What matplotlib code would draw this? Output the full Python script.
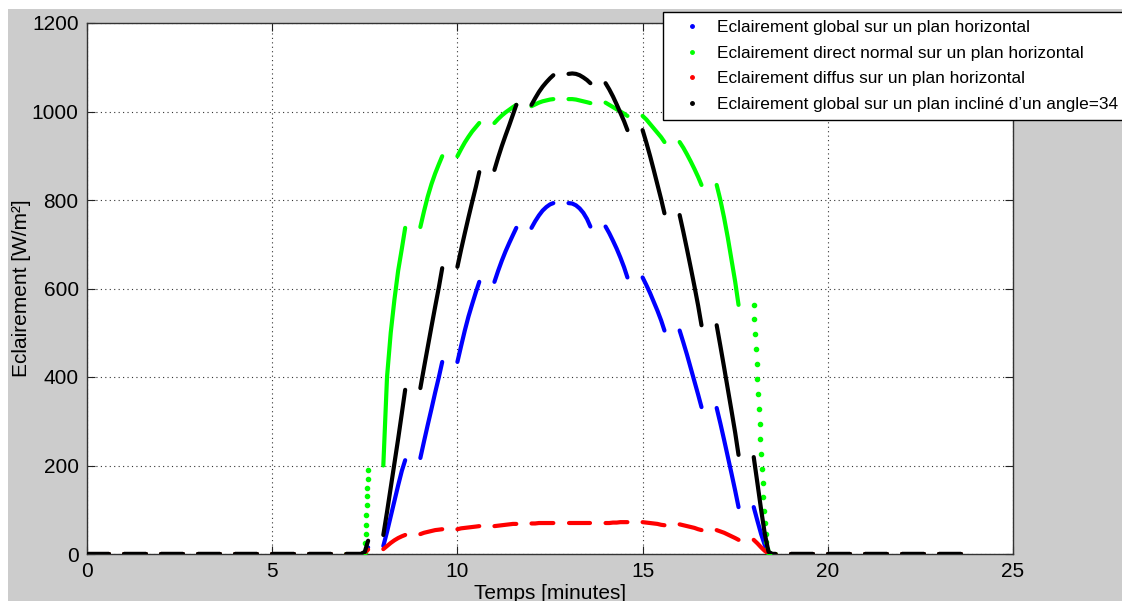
import matplotlib.pyplot as plt
from matplotlib.lines import Line2D
from matplotlib.patches import Rectangle

plt.rcParams['font.family'] = ['Liberation Sans', 'DejaVu Sans']

# time axis is hh.mm, so each hour gives a dash from h.00 to h.59
minutes = [0, 10, 20, 30, 40, 50, 59]
day_hours = [7, 8, 9, 10, 11, 12, 13, 14, 15, 16, 17, 18]
night_hours = [0, 1, 2, 3, 4, 5, 6, 19, 20, 21, 22, 23]

blue_day = [
    [0, 0, 0, 0, 0, 3, 15],
    [18, 50, 85, 120, 155, 188, 212],
    [217, 255, 292, 328, 365, 400, 434],
    [434, 470, 505, 537, 565, 592, 615],
    [615, 640, 663, 684, 703, 721, 737],
    [737, 752, 765, 776, 784, 790, 793],
    [793, 792, 788, 781, 771, 757, 740],
    [740, 725, 708, 690, 670, 648, 625],
    [625, 608, 590, 570, 550, 528, 505],
    [505, 478, 450, 420, 390, 360, 332],
    [330, 295, 258, 220, 182, 143, 106],
    [106, 75, 45, 20, 2, 0, 0],
]

# green hours 8..17 as dashes, dawn and dusk as single dots
green_hours = [8, 9, 10, 11, 12, 13, 14, 15, 16, 17]
green_day = [
    [200, 400, 500, 575, 640, 690, 737],
    [739, 775, 808, 836, 860, 881, 899],
    [899, 915, 930, 943, 955, 965, 974],
    [974, 983, 991, 998, 1004, 1010, 1015],
    [1012, 1016, 1020, 1023, 1025, 1027, 1028],
    [1028, 1028, 1027, 1025, 1023, 1021, 1019],
    [1020, 1015, 1010, 1005, 1000, 995, 990],
    [990, 982, 972, 962, 952, 942, 931],
    [931, 918, 903, 887, 870, 852, 834],
    [834, 800, 760, 715, 665, 615, 563],
]
green_dawn_min = [50, 51, 52, 53, 54, 55, 56, 57, 58, 59]
green_dawn = [5, 25, 45, 65, 88, 110, 130, 150, 170, 190]
green_dusk_min = [0, 2, 4, 6, 8, 10, 12, 14, 16, 18, 20, 22, 24, 26, 28, 30, 32, 34, 36, 38, 40]
green_dusk = [563, 530, 497, 463, 430, 396, 362, 328, 294, 260, 226,
              193, 160, 128, 98, 70, 46, 26, 12, 4, 0]

red_day = [
    [0, 0, 0, 0, 0, 3, 10],
    [11, 18, 25, 31, 36, 40, 43],
    [45, 48, 50, 52, 54, 55, 56],
    [56, 58, 59, 60, 61, 62, 63],
    [63, 64, 65, 66, 67, 68, 68],
    [69, 69, 70, 70, 70, 70, 70],
    [70, 70, 70, 70, 70, 70, 70],
    [70, 70, 71, 71, 72, 72, 72],
    [72, 71, 70, 69, 68, 66, 65],
    [67, 65, 63, 61, 59, 56, 54],
    [54, 51, 48, 44, 40, 36, 32],
    [32, 24, 15, 7, 1, 0, 0],
]

black_day = [
    [0, 0, 0, 0, 0, 5, 30],
    [43, 95, 150, 205, 260, 318, 371],
    [375, 422, 468, 514, 559, 603, 646],
    [649, 688, 725, 761, 796, 830, 863],
    [868, 896, 922, 946, 969, 993, 1015],
    [1015, 1030, 1044, 1056, 1066, 1075, 1082],
    [1085, 1086, 1085, 1082, 1077, 1071, 1064],
    [1064, 1050, 1034, 1016, 997, 978, 958],
    [958, 930, 900, 868, 835, 802, 770],
    [766, 728, 688, 647, 605, 561, 517],
    [517, 470, 422, 373, 324, 274, 224],
    [219, 160, 100, 45, 5, 0, 0],
]

labels = [
    "Eclairement global sur un plan horizontal",
    "Eclairement direct normal sur un plan horizontal",
    "Eclairement diffus sur un plan horizontal",
    "Eclairement global sur un plan incliné d\u2019un angle=34",
]
colors = ['#0000ff', '#00ff00', '#ff0000', '#000000']

fig = plt.figure(figsize=(11.22, 6.01), dpi=100)
fig.patches.append(Rectangle((8 / 1122, 0), 1, 592 / 601, transform=fig.transFigure,
                             facecolor='#cccccc', edgecolor='none', zorder=-10))
ax = fig.add_axes([87 / 1122, 47 / 601, 926 / 1122, 531 / 601])

lw = 3.0


def dash(hour, mins, vals, color):
    x = [hour + m / 100 for m in mins]
    ax.plot(x, vals, color=color, lw=lw, solid_capstyle='round', zorder=3)


def night(color):
    for h in night_hours:
        dash(h, [0, 59], [0, 0], color)


# blue
night(colors[0])
for h, row in zip(day_hours, blue_day):
    dash(h, minutes, row, colors[0])

# green
night(colors[1])
dash(7, [0, 49], [0, 0], colors[1])
ax.plot([7 + m / 100 for m in green_dawn_min], green_dawn, '.', color=colors[1], ms=6, zorder=3)
for h, row in zip(green_hours, green_day):
    dash(h, minutes, row, colors[1])
ax.plot([18 + m / 100 for m in green_dusk_min], green_dusk, '.', color=colors[1], ms=6, zorder=3)
dash(18, [40, 59], [0, 0], colors[1])

# red
night(colors[2])
for h, row in zip(day_hours, red_day):
    dash(h, minutes, row, colors[2])

# black
night(colors[3])
for h, row in zip(day_hours, black_day):
    dash(h, minutes, row, colors[3])

ax.set_xlim(0, 25)
ax.set_ylim(0, 1200)
ax.set_xticks([0, 5, 10, 15, 20, 25])
ax.set_yticks([0, 200, 400, 600, 800, 1000, 1200])
ax.tick_params(direction='in', length=6, width=0.8, top=True, right=True,
               labelsize=15, pad=6, colors='#222222', labelcolor='black')
ax.grid(True, linestyle=(0, (1, 3)), color='#333333', lw=0.8)
for s in ax.spines.values():
    s.set_color('#333333')
    s.set_linewidth(1.0)

ax.set_ylabel("Eclairement [W/m\u00b2]", fontsize=15)
ax.yaxis.set_label_coords(-0.061, 0.5)
ax.set_xlabel("Temps [minutes]", fontsize=15)
ax.xaxis.set_label_coords(0.5, -0.056)

handles = [Line2D([], [], ls='none', marker='.', ms=5, color=c) for c in colors]
leg = fig.legend(handles, labels, loc='upper left', bbox_to_anchor=(663 / 1122, 1 - 12 / 601),
                 fontsize=12.4, frameon=True, fancybox=False, edgecolor='black',
                 facecolor='white', framealpha=1.0,
                 borderpad=0.45, labelspacing=0.62, handlelength=2.5, handletextpad=0.2,
                 borderaxespad=0)
leg.get_frame().set_linewidth(1.0)

fig.savefig('out.png', dpi=100, facecolor='white')
